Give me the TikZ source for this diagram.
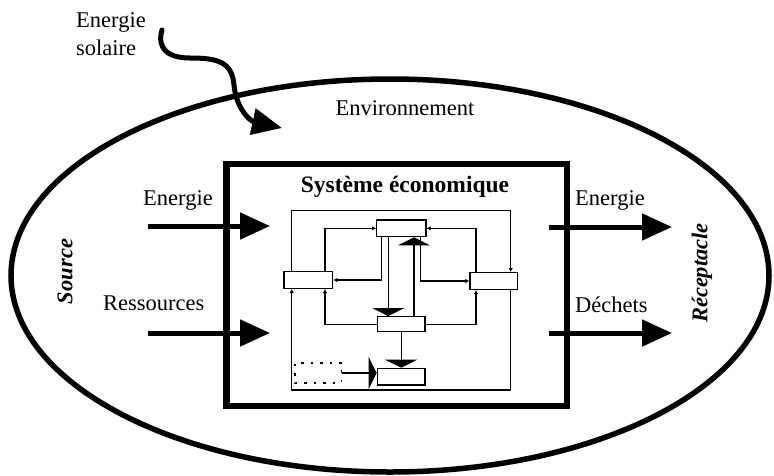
\documentclass[tikz,border=0pt]{standalone}
\usepackage{fontspec}
\setmainfont{Liberation Serif}
\usetikzlibrary{arrows.meta,shapes.geometric,calc}
\begin{document}
\begin{tikzpicture}[x=1pt,y=-1pt,
  lbl/.style={font=\fontsize{22.5}{26}\selectfont, inner sep=0pt},
  side/.style={font=\fontsize{22.5}{26}\selectfont\bfseries\itshape, inner sep=0pt, rotate=90},
  flow/.style={line width=5pt, -{Triangle[length=30pt,width=26pt]}},
  unit/.style={draw, line width=1.3pt, inner sep=0pt, minimum height=16.7pt},
  link/.style={line width=1.2pt, -{Latex[length=4pt,width=4.5pt]}},
  bigtip/.style={line width=1.3pt, -{Triangle[length=8pt,width=32pt]}}]
\useasboundingbox (0,0) rectangle (774,475);

% environment
\node[draw, ellipse, line width=5.5pt, minimum width=758pt, minimum height=393pt, inner sep=0pt] (env) at (390,275.5) {};
\node[lbl, anchor=base] (envtxt) at (405,115) {Environnement};

% solar energy
\node[lbl, anchor=base west] (sol1) at (76,27) {Energie};
\node[lbl, anchor=base west] (sol2) at (76,55) {solaire};
\coordinate (sunA) at (162,30);
\coordinate (sunB) at (282,128);
\draw[line width=5pt, line cap=round, -{Triangle[length=30pt,width=26pt]}]
  (sunA) .. controls (157,47) and (166,58) .. (190,58)
         .. controls (218,58) and (232,62) .. (234,85)
         .. controls (236,108) and (250,121) .. (sunB);

% economic system
\node[draw, line width=6.5pt, minimum width=340.5pt, minimum height=242pt, inner sep=0pt] (eco) at (396.75,285) {};
\node[lbl, font=\fontsize{23.5}{27}\selectfont\bfseries, anchor=base] (ecotxt) at (405,192) {Système économique};

% side labels
\node[side] (src) at (65,271.5) {Source};
\node[side] (rec) at (702,273) {Réceptacle};

% inputs
\coordinate (inE0) at (148,226); \coordinate (inE1) at (270,226);
\coordinate (inR0) at (148,333); \coordinate (inR1) at (270,333);
\draw[flow] (inE0) -- (inE1);
\draw[flow] (inR0) -- (inR1);
\node[lbl, anchor=base west] (inEt) at (143,205) {Energie};
\node[lbl, anchor=base west] (inRt) at (103,310) {Ressources};

% outputs
\coordinate (outE0) at (549,227); \coordinate (outE1) at (672,227);
\coordinate (outD0) at (549,333); \coordinate (outD1) at (672,333);
\draw[flow] (outE0) -- (outE1);
\draw[flow] (outD0) -- (outD1);
\node[lbl, anchor=base west] (outEt) at (575,205) {Energie};
\node[lbl, anchor=base west] (outDt) at (575,312) {Déchets};

% inner schema
\node[unit, minimum width=49.3pt] (T) at (401.3,228.3) {};
\node[unit, minimum width=48.7pt] (L) at (308.3,280) {};
\node[unit, minimum width=47.3pt] (R) at (493.7,281) {};
\node[unit, minimum width=47.7pt, minimum height=15pt] (M) at (401.2,324.2) {};
\node[unit, minimum width=47.7pt] (B) at (401.2,376.7) {};
\node[draw, dash pattern=on 2.5pt off 7pt, line width=1.2pt, minimum width=46.7pt, minimum height=20pt, inner sep=0pt] (D) at (318.3,373) {};
\coordinate (fTR) at (510.7,210.7);
\coordinate (fBL) at (291.7,390);

\draw[link] (325,0 |- L.north) |- (T.west);
\draw[link] (476,0 |- R.north) |- (T.east);
\draw[link] (381.7,0 |- T.south) |- (L.east);
\draw[link] (420.7,0 |- T.south) |- (R.west);
\draw[link] (M.west) -| (325,0 |- L.south);
\draw[link] (M.east) -| (476,0 |- R.south);
\draw[link] (fBL |- L.north) |- (fTR) -- (fTR |- R.north);
\draw[link] (fTR |- R.south) |- (fBL) -- (fBL |- L.south);
\draw[bigtip] (388.3,0 |- T.south) -- (388.3,0 |- M.north);
\draw[bigtip] (414,0 |- M.north) -- (414,0 |- T.south);
\draw[bigtip] (M.south) -- (B.north);
\draw[bigtip] (D.east) -- (D.east -| B.west);
\end{tikzpicture}
\end{document}
